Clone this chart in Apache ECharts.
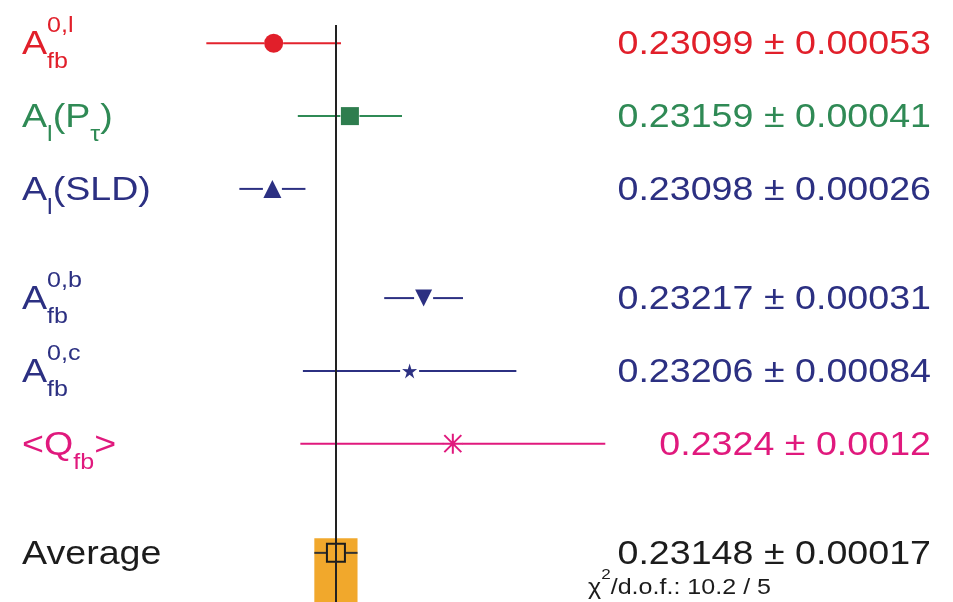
<!DOCTYPE html>
<html>
<head>
<meta charset="utf-8">
<script src="https://cdn.jsdelivr.net/npm/echarts@6/dist/echarts.min.js"></script>
<style>
  html, body { margin: 0; padding: 0; background: #ffffff; }
  #chart { width: 953px; height: 602px; }
</style>
</head>
<body>
<div id="chart"></div>
<script>
// sin^2(theta_eff^lept) from the asymmetry measurements
const labels   = ['A_{fb}^{0,l}', 'A_{l}(P_{τ})', 'A_{l}(SLD)', 'A_{fb}^{0,b}', 'A_{fb}^{0,c}', '<Q_{fb}>', 'Average'];
const values   = [0.23099, 0.23159, 0.23098, 0.23217, 0.23206, 0.2324, 0.23148];
const errors   = [0.00053, 0.00041, 0.00026, 0.00031, 0.00084, 0.0012, 0.00017];
const decimals = [5, 5, 5, 5, 5, 4, 5];
const chi2 = 10.2;
const ndof = 5;

// layout: vertical slot of each row (groups separated by an extra half row)
const rowSlots = [0, 1, 2, 3.5, 4.5, 5.5, 7];
const AVG = 6;

// styles
const textColors = ['#e11f2a', '#2f8a55', '#2c3082', '#2c3082', '#2c3082', '#e0197d', '#1c1c1c'];
const barColors  = ['#e3232d', '#2f8a55', '#2c3082', '#2c3082', '#2c3082', '#e0197d', '#333333'];
const STAR = 'path://M10,0L12.23,6.93L19.51,6.91L13.61,11.17L15.88,18.09L10,13.8L4.12,18.09L6.39,11.17L0.49,6.91L7.77,6.93Z';
const ASTERISK = 'path://M9,0H11V20H9ZM0,9H20V11H0ZM2.2,0.8L19.2,17.8L17.8,19.2L0.8,2.2ZM17.8,0.8L19.2,2.2L2.2,19.2L0.8,17.8Z';
const markerStyles = [
  { symbol: 'circle',   symbolSize: 19, itemStyle: { color: '#e11f2a', opacity: 1 } },
  { symbol: 'rect',     symbolSize: 18, itemStyle: { color: '#2e7d4e', opacity: 1 } },
  { symbol: 'triangle', symbolSize: 18, itemStyle: { color: '#2c3082', opacity: 1 } },
  { symbol: 'triangle', symbolSize: 17, symbolRotate: 180, itemStyle: { color: '#2c3082', opacity: 1 } },
  { symbol: STAR,       symbolSize: 15, itemStyle: { color: '#2c3082', opacity: 1 } },
  { symbol: ASTERISK,   symbolSize: 20, itemStyle: { color: '#e0197d', opacity: 1 } },
  { symbol: 'rect',     symbolSize: 18, itemStyle: { color: 'rgba(0,0,0,0)', borderColor: '#1c1c1c', borderWidth: 2, opacity: 1 } }
];
const BAND_COLOR = '#f1a82c';
const FONT_FAMILY = '"Liberation Sans", Arial, Helvetica, sans-serif';
const MAIN_SIZE = 33;
const STRETCH = 1.14;
const LABEL_X = 22;
const VALUE_X = 931;
const TEXT_DY = 2;
const GAP = 9.5;

const X_MIN = 0.2303, X_MAX = 0.2337;
const Y_MIN = -0.595, Y_MAX = 7.675;

const measureCtx = document.createElement('canvas').getContext('2d');
function fontOf(size) { return size + 'px ' + FONT_FAMILY; }
function measure(t, size) { measureCtx.font = fontOf(size); return measureCtx.measureText(t).width; }

// text element whose alphabetic baseline sits at `baseline`
function textEl(t, x, baseline, size, color) {
  return {
    type: 'text', x: x, y: baseline - 0.3465 * size,
    style: { text: t, font: fontOf(size), fill: color, align: 'left', verticalAlign: 'middle' }
  };
}

// lays out "A_{fb}^{0,l}" style labels: sub/superscripts stacked at the same x
function buildRich(str, size, color) {
  const scriptSize = Math.round(size * 0.66);
  const out = [];
  let x = 0, scriptX = null, scriptW = 0;
  for (const m of str.matchAll(/([_^])\{([^}]*)\}|([^_^]+)/g)) {
    if (m[3] !== undefined) {
      if (scriptX !== null) { x = scriptX + scriptW; scriptX = null; scriptW = 0; }
      out.push(textEl(m[3], x, 0, size, color));
      x += measure(m[3], size);
    } else {
      if (scriptX === null) { scriptX = x; scriptW = 0; }
      const base = m[1] === '_' ? size * 0.4 : -size * 0.7;
      out.push(textEl(m[2], scriptX, base, scriptSize, color));
      scriptW = Math.max(scriptW, measure(m[2], scriptSize));
    }
  }
  return out;
}

function valueText(i) {
  return values[i].toFixed(decimals[i]) + ' ± ' + errors[i].toFixed(decimals[i]);
}

const rows = values.map((v, i) => [v, rowSlots[i], errors[i], i]);

const chart = echarts.init(document.getElementById('chart'), null, { renderer: 'canvas' });

chart.setOption({
  animation: false,
  backgroundColor: '#ffffff',
  grid: { left: 186, right: 335, top: 0, bottom: 0 },
  xAxis: { type: 'value', min: X_MIN, max: X_MAX, show: false, splitLine: { show: false } },
  yAxis: { type: 'value', min: Y_MIN, max: Y_MAX, inverse: true, show: false, splitLine: { show: false } },
  series: [
    {
      // error bars, interrupted around the marker
      type: 'custom',
      name: 'errors',
      z: 2,
      encode: { x: 0, y: 1 },
      data: rows,
      renderItem: function (params, api) {
        const v = api.value(0), s = api.value(1), e = api.value(2), i = api.value(3);
        const l = api.coord([v - e, s]), c = api.coord([v, s]), r = api.coord([v + e, s]);
        const st = { stroke: barColors[i], lineWidth: 2 };
        return {
          type: 'group',
          children: [
            { type: 'line', shape: { x1: l[0], y1: c[1], x2: Math.max(l[0], c[0] - GAP), y2: c[1] }, style: st },
            { type: 'line', shape: { x1: Math.min(r[0], c[0] + GAP), y1: c[1], x2: r[0], y2: c[1] }, style: st }
          ]
        };
      },
      markArea: {
        silent: true,
        itemStyle: { color: BAND_COLOR, opacity: 1 },
        data: [[
          { coord: [values[AVG] - errors[AVG], rowSlots[AVG] - 0.2] },
          { coord: [values[AVG] + errors[AVG], Y_MAX] }
        ]]
      }
    },
    {
      // central values
      type: 'scatter',
      name: 'values',
      z: 3,
      itemStyle: { opacity: 1 },
      data: rows.map((r, i) => Object.assign({ value: [r[0], r[1]] }, markerStyles[i])),
      markLine: {
        silent: true,
        symbol: ['none', 'none'],
        label: { show: false },
        lineStyle: { color: '#222222', width: 2, type: 'solid', opacity: 1 },
        data: [[
          { coord: [values[AVG], -0.25] },
          { coord: [values[AVG], Y_MAX] }
        ]]
      }
    },
    {
      // row names on the left, values on the right
      type: 'custom',
      name: 'labels',
      z: 4,
      clip: false,
      encode: { x: 0, y: 1 },
      data: rows,
      renderItem: function (params, api) {
        const i = api.value(3);
        const y = api.coord([api.value(0), api.value(1)])[1] + TEXT_DY;
        const color = textColors[i];
        const kids = [
          { type: 'group', x: LABEL_X, y: y + 0.3465 * MAIN_SIZE, scaleX: STRETCH,
            children: buildRich(labels[i], MAIN_SIZE, color) },
          { type: 'text', x: VALUE_X, y: y, scaleX: STRETCH,
            style: { text: valueText(i), font: fontOf(MAIN_SIZE), fill: color, align: 'right', verticalAlign: 'middle' } }
        ];
        if (i === AVG) {
          kids.push({ type: 'group', x: 588, y: y + 41, scaleX: STRETCH,
            children: buildRich('χ^{2}/d.o.f.: ' + chi2.toFixed(1) + ' / ' + ndof, 22, color) });
        }
        return { type: 'group', children: kids };
      }
    }
  ]
});
</script>
</body>
</html>
